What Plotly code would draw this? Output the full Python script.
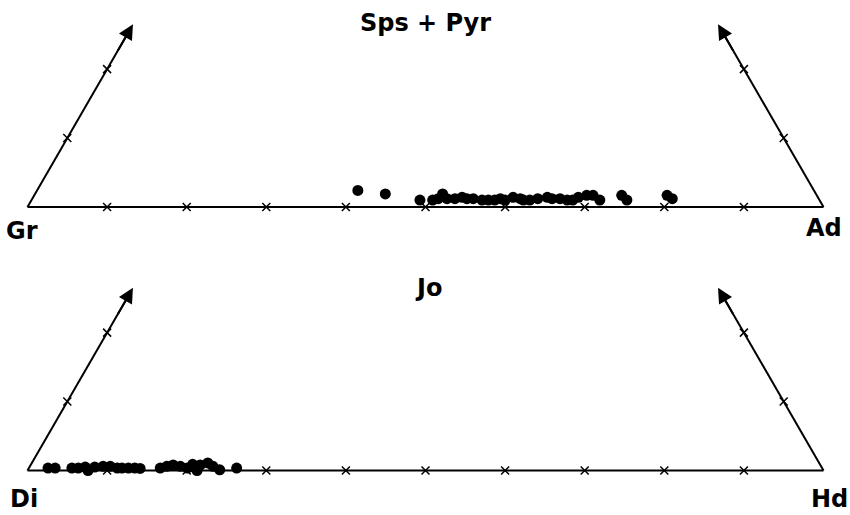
import math
import plotly.graph_objects as go

# ---------------- data (percent) ----------------
# Upper diagram: Gr - Ad - (Sps+Pyr)
top_ad = [40.3, 44.0, 48.8, 50.4, 51.0, 51.2, 52.1, 53.1, 53.9, 54.6, 55.4, 56.6,
          57.4, 58.2, 58.8, 59.5, 60.3, 61.3, 61.8, 62.6, 63.5, 64.6, 65.3, 66.3,
          67.3, 68.0, 68.5, 69.4, 70.2, 71.4, 73.8, 74.8, 79.5, 80.4]
top_sps_pyr = [2.4, 1.9, 1.0, 1.0, 1.2, 1.9, 1.2, 1.2, 1.4, 1.2, 1.2, 1.0,
               1.0, 1.0, 1.2, 1.0, 1.4, 1.2, 1.0, 1.0, 1.2, 1.4, 1.2, 1.2,
               1.0, 1.0, 1.4, 1.7, 1.7, 1.0, 1.7, 1.0, 1.7, 1.2]
# Lower diagram: Di - Hd - Jo
bot_hd = [2.4, 3.3, 5.4, 6.2, 7.6, 9.2, 10.1, 11.1, 11.7, 12.5, 13.3, 16.5,
          17.2, 17.9, 18.9, 19.9, 20.9, 21.3, 22.1, 23.0, 24.1, 26.1, 21.3, 8.2,
          7.0, 14.0, 20.3]
bot_jo = [0.35, 0.35, 0.35, 0.35, 0.0, 0.6, 0.6, 0.35, 0.35, 0.35, 0.35, 0.35,
          0.6, 0.8, 0.6, 0.35, 0.35, 0.8, 1.1, 0.6, 0.1, 0.35, 0.0, 0.5,
          0.5, 0.3, 0.9]

base_ticks = [10, 20, 30, 40, 50, 60, 70, 80, 90]
side_ticks = [10, 20]
side_extent = 26.5  # apex % shown on the side axes

top_labels = ["Gr", "Ad", "Sps + Pyr"]
bot_labels = ["Di", "Hd", "Jo"]

# ---------------- geometry helpers ----------------
S3 = math.sqrt(3) / 2


def tern(right, apex):
    return [r + 0.5 * a for r, a in zip(right, apex)], [a * S3 for a in apex]


W, H = 850, 515
PX = 7.96           # pixels per percent
X0 = 27.5           # pixel x of the left vertex
BASE_TOP = 207.0    # pixel y of upper baseline
BASE_BOT = 470.5    # pixel y of lower baseline

fig = go.Figure()
annotations = []


def panel(yref, right, apex, labels, label_pos):
    yname = "y" if yref == "y" else "y2"
    # base line
    fig.add_trace(go.Scatter(x=[0, 100], y=[0, 0], mode="lines", yaxis=yname,
                             line=dict(color="black", width=2), hoverinfo="skip"))
    # sides with arrows
    for vx, sign in ((0, 1), (100, -1)):
        tx = vx + sign * 0.5 * side_extent
        ty = side_extent * S3
        fig.add_trace(go.Scatter(x=[vx, vx + sign * 0.5 * (side_extent - 1.5)],
                                 y=[0, (side_extent - 1.5) * S3], mode="lines",
                                 yaxis=yname, line=dict(color="black", width=2),
                                 hoverinfo="skip"))
        annotations.append(dict(x=tx, y=ty, ax=vx + sign * 0.5 * (side_extent - 4),
                                ay=(side_extent - 4) * S3, xref="x", yref=yref,
                                axref="x", ayref=yref, text="", showarrow=True,
                                arrowhead=2, arrowsize=1.5, arrowwidth=2,
                                arrowcolor="black"))
        # side ticks
        sx = [vx + sign * 0.5 * t for t in side_ticks]
        sy = [t * S3 for t in side_ticks]
        fig.add_trace(go.Scatter(x=sx, y=sy, mode="markers", yaxis=yname,
                                 marker=dict(symbol="x-thin", size=8,
                                             line=dict(color="black", width=1.5)),
                                 hoverinfo="skip"))
    # base ticks
    fig.add_trace(go.Scatter(x=base_ticks, y=[0] * len(base_ticks), mode="markers",
                             yaxis=yname,
                             marker=dict(symbol="x-thin", size=8,
                                         line=dict(color="black", width=1.5)),
                             hoverinfo="skip"))
    # data
    px_, py_ = tern(right, apex)
    fig.add_trace(go.Scatter(x=px_, y=py_, mode="markers", yaxis=yname,
                             marker=dict(color="black", size=11, line=dict(width=0))))
    for txt, (lx, ly) in zip(labels, label_pos):
        annotations.append(dict(x=lx / W, y=1 - ly / H, xref="paper", yref="paper",
                                text=txt, showarrow=False, xanchor="center",
                                yanchor="middle",
                                font=dict(family="DejaVu Sans", size=24,
                                          color="black", weight="bold")))


panel("y", top_ad, top_sps_pyr, top_labels, [(22, 231), (824, 228), (425, 23)])
panel("y2", bot_hd, bot_jo, bot_labels, [(24, 499), (829, 499), (428, 288)])

fig.update_layout(
    width=W, height=H, margin=dict(l=0, r=0, t=0, b=0),
    paper_bgcolor="white", plot_bgcolor="white", showlegend=False,
    xaxis=dict(range=[-X0 / PX, (W - X0) / PX], visible=False, domain=[0, 1]),
    yaxis=dict(range=[(BASE_TOP - H) / PX, BASE_TOP / PX], visible=False,
               domain=[0, 1]),
    yaxis2=dict(range=[(BASE_BOT - H) / PX, BASE_BOT / PX], visible=False,
                domain=[0, 1], overlaying="y", anchor="x"),
    annotations=annotations,
)

fig.write_html("out.html")
